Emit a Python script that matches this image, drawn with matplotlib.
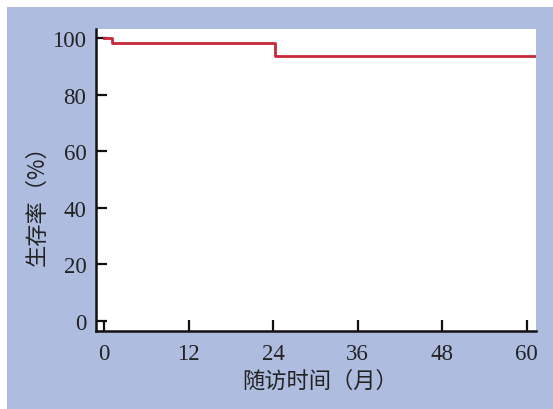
import matplotlib
matplotlib.use("Agg")
import matplotlib.pyplot as plt
from matplotlib.patches import Rectangle

# Data
times = [0, 1.1, 24.3, 61.3]
survival = [100, 98.1, 93.6, 93.6]
xticks = [0, 12, 24, 36, 48, 60]
yticks = [0, 20, 40, 60, 80, 100]
xlabel = "随访时间（月）"
ylabel = "生存率（%）"

fig = plt.figure(figsize=(5.53, 4.10), dpi=100)
fig.patch.set_facecolor("white")
fig.patches.append(Rectangle((7/553, 0), 1, 1 - 8/410, transform=fig.transFigure,
                             facecolor="#aebddf", edgecolor="none", zorder=-5))

ax = fig.add_axes([96/553, 78/410, 440/553, 302/410])
ax.set_zorder(2)
ax.set_facecolor("white")
ax.step(times, survival, where="post", color="#c8283a", lw=2, zorder=3)

ax.set_xlim(-1.13, 61.3)
ax.set_ylim(-3.5, 103.2)
ax.set_xticks(xticks)
ax.set_yticks(yticks)
for s in ["top", "right"]:
    ax.spines[s].set_visible(False)
for s in ["left", "bottom"]:
    ax.spines[s].set_linewidth(1.8)
    ax.spines[s].set_color("#111111")

serif = ["Liberation Serif", "Noto Sans CJK SC"]
ax.tick_params(direction="in", length=8, width=1.6, colors="#111111",
               labelcolor="#222222", labelsize=16.5)
ax.tick_params(axis="x", pad=9)
ax.tick_params(axis="y", pad=7)
for lab in ax.get_xticklabels() + ax.get_yticklabels():
    lab.set_fontfamily(serif)

fig.text(320/553, 1 - 381/410, xlabel, ha="center", va="center",
         fontsize=16, color="#222222", family=["Noto Sans CJK SC", "DejaVu Sans"])
fig.text(37/553, 1 - 200/410, ylabel, ha="center", va="center", rotation=90,
         fontsize=16, color="#222222", family=["Noto Sans CJK SC", "DejaVu Sans"])

fig.savefig("out.png", dpi=100, facecolor=fig.get_facecolor())
